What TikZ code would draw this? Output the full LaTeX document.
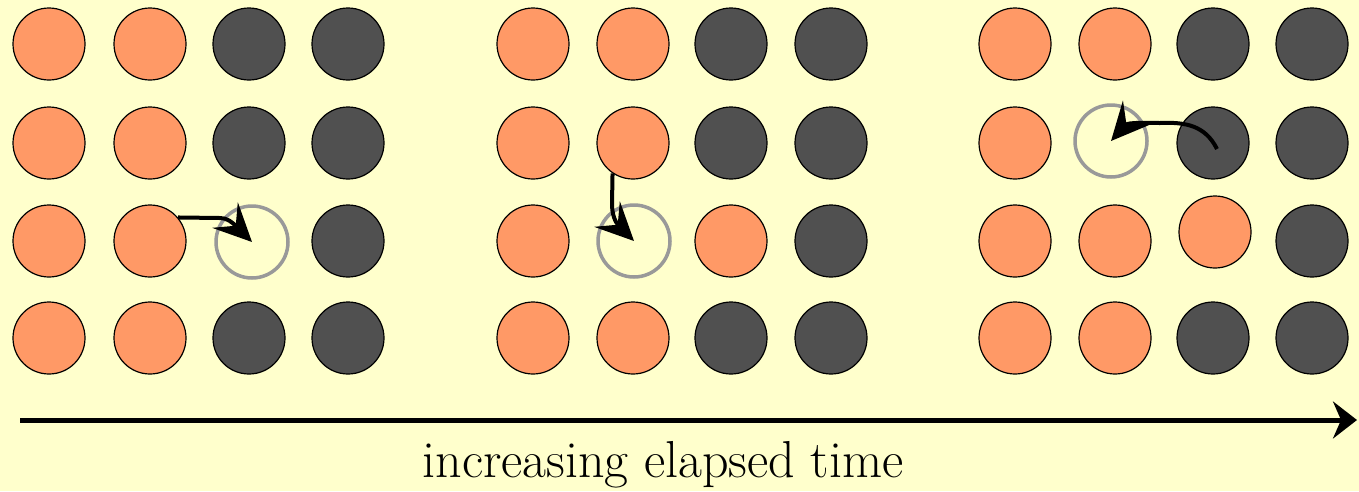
\documentclass[tikz,border=0pt]{standalone}
\usetikzlibrary{arrows.meta}
\definecolor{bg}{HTML}{FFFFCC}
\definecolor{orng}{HTML}{FF9966}
\definecolor{dgray}{HTML}{505050}
\definecolor{ring}{HTML}{999999}
\tikzset{
  ball/.style={circle,draw=black,line width=1.2pt,minimum size=72pt,inner sep=0pt},
  ob/.style={ball,fill=orng},
  db/.style={ball,fill=dgray},
  hole/.style={circle,draw=ring,line width=3.5pt,minimum size=72pt,inner sep=0pt},
  jump/.style={line width=4pt,-{Stealth[length=38pt,width=36pt,inset=15pt]}},
  timearrow/.style={line width=5pt,-{Stealth[length=24pt,width=37pt,inset=8pt]}}
}
\begin{document}
\begin{tikzpicture}[x=1pt,y=-1pt]
\fill[bg] (0,0) rectangle (1359,491);
\useasboundingbox (0,0) rectangle (1359,491);
% grid 1
\foreach \r/\y in {1/44,2/143,3/241,4/338}{
  \node[ob] (a\r1) at (49,\y) {};
  \node[ob] (a\r2) at (150,\y) {};
  \node[db] (a\r4) at (348,\y) {};
}
\foreach \r/\y in {1/44,2/143,4/338}{ \node[db] (a\r3) at (249,\y) {}; }
\node[hole] (h1) at (252,242) {};
% grid 2
\foreach \r/\y in {1/44,2/143,3/241,4/338}{
  \node[ob] (b\r1) at (533,\y) {};
  \node[db] (b\r4) at (831,\y) {};
}
\foreach \r/\y in {1/44,2/143,4/338}{ \node[ob] (b\r2) at (633,\y) {}; }
\foreach \r/\y in {1/44,2/143,4/338}{ \node[db] (b\r3) at (731,\y) {}; }
\node[ob] (b33) at (731,241) {};
\node[hole] (h2) at (634,241) {};
% grid 3
\foreach \r/\y in {1/44,2/143,3/241,4/338}{
  \node[ob] (c\r1) at (1015,\y) {};
  \node[db] (c\r4) at (1312,\y) {};
}
\foreach \r/\y in {1/44,3/241,4/338}{ \node[ob] (c\r2) at (1115,\y) {}; }
\foreach \r/\y in {1/44,2/143,4/338}{ \node[db] (c\r3) at (1213,\y) {}; }
\node[ob] (c33) at (1215,232) {};
\node[hole] (h3) at (1111,141) {};
% jumps
\draw[jump] (a32.40) -- (220,218) .. controls (227,218) and (232,222) .. (h1.center);
\draw[jump] (b22.-124) -- (612,204) .. controls (612,214) and (615,222) .. (h2.center);
\draw[jump] ([shift={(4,6)}]c23.center) .. controls (1205,125) and (1185,122) .. (1160,123) .. controls (1148,123) and (1128,122) .. (h3.center);
% time axis
\coordinate (ts) at (20,420);
\coordinate (te) at (1357,420);
\draw[timearrow] (ts) -- (te);
\node[font=\fontsize{52}{58}\selectfont,anchor=base,inner sep=0pt] (lbl) at (663,477) {increasing elapsed time};
\end{tikzpicture}
\end{document}
